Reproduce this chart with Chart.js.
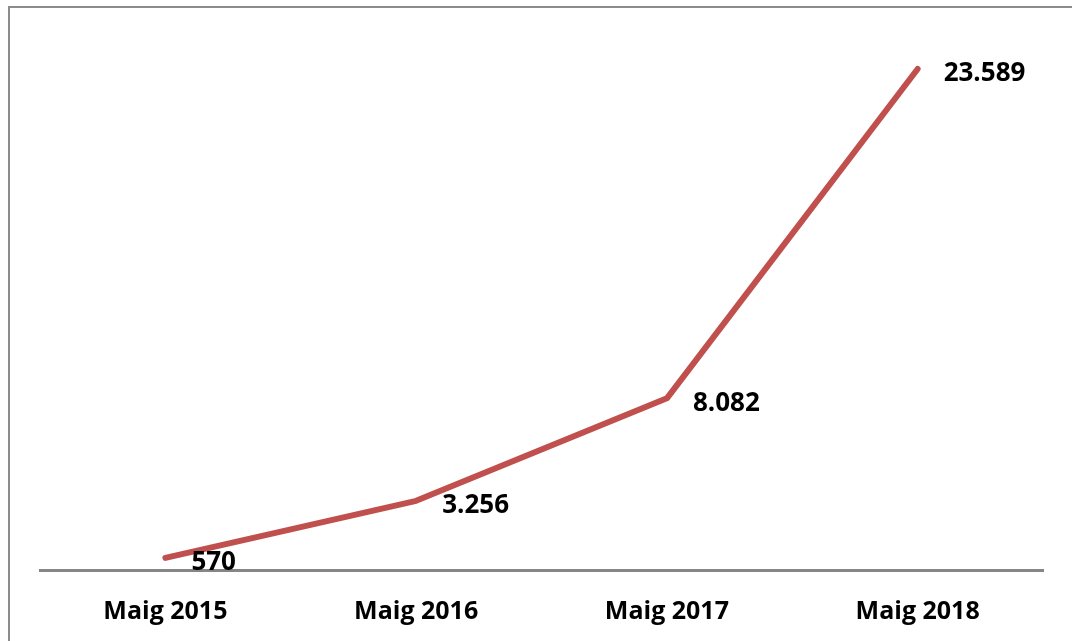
<!DOCTYPE html>
<html>
<head>
<meta charset="utf-8">
<script src="https://cdn.jsdelivr.net/npm/chart.js@4"></script>
<style>
html,body{margin:0;padding:0;background:#fff;overflow:hidden;}
#wrap{position:relative;width:1072px;height:641px;}
</style>
</head>
<body>
<div id="wrap"><canvas id="c" width="1072" height="641"></canvas></div>
<script>
const categories = ["Maig 2015", "Maig 2016", "Maig 2017", "Maig 2018"];
const values = [570, 3256, 8082, 23589];
const valueLabels = ["570", "3.256", "8.082", "23.589"];

const FONT = "'Open Sans', 'Noto Sans', sans-serif";

const framePlugin = {
  id: 'frame',
  beforeDraw(chart) {
    const ctx = chart.ctx;
    ctx.save();
    ctx.fillStyle = '#fff';
    ctx.fillRect(0, 0, chart.width, chart.height);
    ctx.strokeStyle = '#8c8c8c';
    ctx.lineWidth = 2;
    ctx.strokeRect(9, 7, chart.width + 40, chart.height + 40);
    ctx.restore();
  }
};

const labelPlugin = {
  id: 'valueLabels',
  afterDatasetsDraw(chart) {
    const ctx = chart.ctx;
    const meta = chart.getDatasetMeta(0);
    ctx.save();
    ctx.font = "bold 26px " + FONT;
    ctx.fillStyle = '#000';
    ctx.textAlign = 'left';
    ctx.textBaseline = 'middle';
    meta.data.forEach((pt, i) => {
      ctx.fillText(valueLabels[i], pt.x + 26, pt.y + 5);
    });
    ctx.restore();
  }
};

new Chart(document.getElementById('c'), {
  type: 'line',
  data: {
    labels: categories,
    datasets: [{
      data: values,
      borderColor: '#C0504D',
      borderWidth: 6,
      borderCapStyle: 'round',
      borderJoinStyle: 'round',
      pointRadius: 0,
      tension: 0,
      fill: false
    }]
  },
  options: {
    responsive: false,
    animation: false,
    devicePixelRatio: 1,
    layout: { padding: { left: 40, right: 29, top: 39, bottom: -13 } },
    plugins: { legend: { display: false }, tooltip: { enabled: false }, title: { display: false } },
    scales: {
      x: {
        offset: true,
        grid: { display: false, drawTicks: false, tickLength: 0 },
        border: { display: true, color: '#868686', width: 3 },
        ticks: {
          color: '#000',
          padding: 27,
          maxRotation: 0,
          font: { family: FONT, size: 25, weight: 'bold' }
        }
      },
      y: {
        display: false,
        min: 0,
        max: 25000
      }
    }
  },
  plugins: [framePlugin, labelPlugin]
});
</script>
</body>
</html>
